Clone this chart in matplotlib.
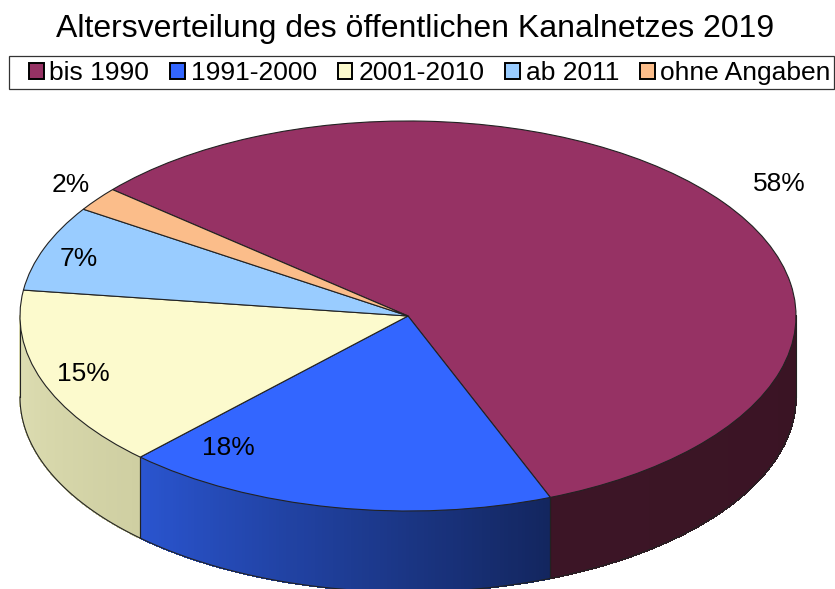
"""Altersverteilung Kanalnetz as a tilted 3D pie."""

import matplotlib
matplotlib.use("Agg")
import matplotlib.pyplot as plt
import numpy as np
from matplotlib.collections import PolyCollection
from matplotlib.colors import to_rgb
from matplotlib.patches import Rectangle
from matplotlib.transforms import Affine2D

title = "Altersverteilung des öffentlichen Kanalnetzes 2019"
categories = ["bis 1990", "1991-2000", "2001-2010", "ab 2011", "ohne Angaben"]
shares = [57.8, 18.1, 15.0, 7.1, 2.0]
colors = ["#963264", "#3366ff", "#fcfacd", "#99ccff", "#fbbd8a"]
side_left = ["#3c1526", "#2a55d0", "#dfdfb4", "#99ccff", "#fbbd8a"]
side_right = ["#3a1424", "#13265f", "#cfcfa2", "#99ccff", "#fbbd8a"]

plt.rcParams["font.family"] = ["Liberation Sans", "DejaVu Sans"]

W, H = 835, 589
cx, cy = 408, H - 316
rx, ry = 388, 195
depth = 81
edge = "#222222"

fig = plt.figure(figsize=(W / 100, H / 100), dpi=100)
ax = fig.add_axes([0, 0, 1, 1])

wedges, _ = ax.pie(shares, colors=colors, center=(cx, cy), radius=rx, startangle=139.6,
                   counterclock=False, frame=False,
                   wedgeprops={"edgecolor": edge, "linewidth": 0.8, "zorder": 5})

# squash the flat pie into an ellipse
squash = Affine2D().translate(-cx, -cy).scale(1, ry / rx).translate(cx, cy) + ax.transData
for w in wedges:
    w.set_transform(squash)
    w.set_zorder(5)

# side wall, only the part facing the viewer
for w, c0, c1 in zip(wedges, side_left, side_right):
    t1, t2 = w.theta1 % 360, w.theta2 % 360
    if t2 <= t1:
        t2 += 360
    parts = []
    for lo, hi in [(180, 360), (540, 720)]:
        a, b = max(t1, lo), min(t2, hi)
        if b > a:
            parts.append((a, b))
    for a, b in parts:
        th = np.radians(np.linspace(a, b, 121))
        xs = cx + rx * np.cos(th)
        ys = cy + ry * np.sin(th)
        quads = [[(xs[i], ys[i]), (xs[i + 1], ys[i + 1]),
                  (xs[i + 1], ys[i + 1] - depth), (xs[i], ys[i] - depth)]
                 for i in range(len(th) - 1)]
        f = np.linspace(0, 1, len(quads))[:, None]
        cols = (1 - f) * np.array(to_rgb(c0)) + f * np.array(to_rgb(c1))
        ax.add_collection(PolyCollection(quads, facecolors=cols, edgecolors=cols,
                                         linewidths=0.6, antialiaseds=False, zorder=2))
        ax.plot(xs, ys - depth, color=edge, lw=0.8, zorder=3)
        for i in (0, -1):
            if np.sin(th[i]) < -0.02:
                ax.plot([xs[i], xs[i]], [ys[i], ys[i] - depth], color=edge, lw=0.8, zorder=3)

ax.plot([cx - rx, cx - rx], [cy, cy - depth], color=edge, lw=0.8, zorder=3)
ax.plot([cx + rx, cx + rx], [cy, cy - depth], color=edge, lw=0.8, zorder=3)

ax.set_aspect("auto")
ax.set_xlim(0, W)
ax.set_ylim(0, H)
ax.axis("off")

# percent labels
label_pos = [(779, 184), (228, 448), (83, 374), (79, 259), (71, 185)]
for v, (x, y) in zip(shares, label_pos):
    ax.text(x, H - y, f"{v:.0f}%", fontsize=19, ha="center", va="center", color="black", zorder=6)

ax.text(415, H - 29, title, fontsize=23, ha="center", va="center", color="black")

# legend box is wider than its content on the left
ax.add_patch(Rectangle((9, H - 89), 825, 33, facecolor="white", edgecolor="#333333",
                       linewidth=0.9, zorder=9))
leg = ax.legend(wedges, categories, loc="upper left", bbox_to_anchor=(29 / W, 1 - 61 / H),
                bbox_transform=ax.transAxes, ncol=5, fontsize=19, frameon=False,
                borderaxespad=0, borderpad=0,
                handlelength=0.55, handleheight=0.55, handletextpad=0.22, columnspacing=0.8)
leg.set_zorder(10)
for h in leg.legend_handles:
    h.set_edgecolor("black")
    h.set_linewidth(1.4)

fig.savefig("out.png", dpi=100)
